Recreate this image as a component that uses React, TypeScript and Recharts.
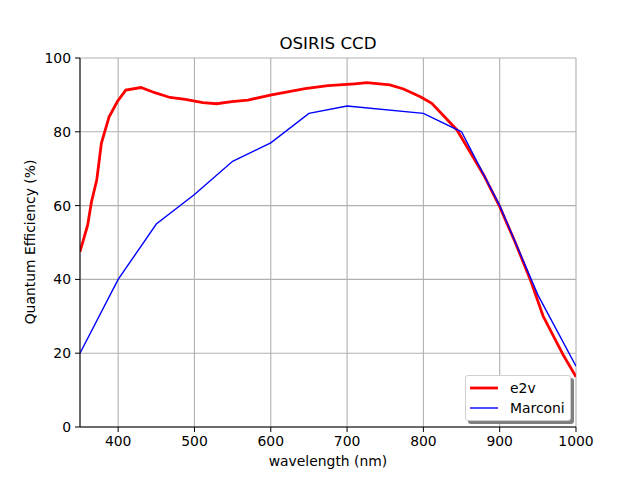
import React from 'react';
import {
  LineChart,
  Line,
  XAxis,
  YAxis,
  CartesianGrid,
} from 'recharts';

// e2v curve
const e2vWavelength = [350, 360, 365, 372, 378, 388, 399, 410, 430, 448, 468, 488, 511, 529, 549, 570, 601, 645, 675, 710, 726, 756, 774, 796, 811, 828, 844, 861, 879, 900, 920, 940, 957, 983, 1000];
const e2vQE = [47.5, 54.7, 61, 67, 76.9, 84, 88.2, 91.3, 92, 90.6, 89.3, 88.8, 87.9, 87.6, 88.2, 88.6, 90, 91.7, 92.5, 93, 93.3, 92.7, 91.6, 89.5, 87.7, 84, 80.5, 74.6, 68.3, 59.7, 50.2, 40, 30, 19.6, 13.6];

// Marconi curve
const marconiWavelength = [350, 400, 450, 500, 550, 600, 650, 700, 800, 850, 900, 950, 1000];
const marconiQE = [20, 40, 55, 63, 72, 77, 85, 87, 85, 80, 60, 35.8, 16.5];

const xTicks = [400, 500, 600, 700, 800, 900, 1000];
const yTicks = [0, 20, 40, 60, 80, 100];

const e2vData = e2vWavelength.map((wl, i) => ({ wl, qe: e2vQE[i] }));
const marconiData = marconiWavelength.map((wl, i) => ({ wl, qe: marconiQE[i] }));

const series = [
  { name: 'e2v', color: '#ff0000', width: 2.8 },
  { name: 'Marconi', color: '#0000ff', width: 1.4 },
];

const font = 'DejaVu Sans, sans-serif';
const tickStyle = { fill: '#000', fontSize: 13.9, fontFamily: font };

const LegendBox = () => (
  <div
    style={{
      position: 'absolute',
      left: 465,
      top: 375,
      width: 106,
      height: 46,
      background: '#fff',
      border: '1px solid #d0d0d0',
      borderRadius: 3,
      boxShadow: '3px 3px 0 #808080',
      fontFamily: font,
      fontSize: 13.9,
      boxSizing: 'border-box',
      paddingTop: 2,
    }}
  >
    {series.map((s) => (
      <div key={s.name} style={{ display: 'flex', alignItems: 'center', height: 20 }}>
        <svg width={40} height={10} style={{ marginLeft: 4 }}>
          <line x1={0} x2={28} y1={5} y2={5} stroke={s.color} strokeWidth={s.width} />
        </svg>
        <span style={{ color: '#000' }}>{s.name}</span>
      </div>
    ))}
  </div>
);

export default function App() {
  return (
    <div style={{ position: 'absolute', left: 0, top: 0, width: 640, height: 480, background: '#fff' }}>
      <div
        style={{
          position: 'absolute',
          left: 80,
          width: 496,
          top: 33,
          textAlign: 'center',
          fontFamily: font,
          fontSize: 16.7,
        }}
      >
        OSIRIS CCD
      </div>
      <div
        style={{
          position: 'absolute',
          left: 80,
          width: 496,
          top: 453,
          textAlign: 'center',
          fontFamily: font,
          fontSize: 13.9,
        }}
      >
        wavelength (nm)
      </div>
      <div
        style={{
          position: 'absolute',
          left: 30,
          top: 242,
          transform: 'translate(-50%, -50%) rotate(-90deg)',
          whiteSpace: 'nowrap',
          fontFamily: font,
          fontSize: 13.9,
        }}
      >
        Quantum Efficiency (%)
      </div>
      <LineChart width={640} height={480} margin={{ top: 58, right: 64, left: 0, bottom: 0 }}>
        <CartesianGrid xAxisId="b" yAxisId="l" stroke="#b0b0b0" strokeWidth={1.1} />
        <XAxis
          xAxisId="b"
          type="number"
          dataKey="wl"
          domain={[350, 1000]}
          ticks={xTicks}
          allowDataOverflow
          height={53}
          tickSize={5}
          tickMargin={4}
          stroke="#000"
          tickLine={{ stroke: '#000' }}
          tick={tickStyle}
        />
        <XAxis
          xAxisId="t"
          orientation="top"
          type="number"
          domain={[350, 1000]}
          height={0}
          tick={false}
          tickLine={false}
          axisLine={{ stroke: '#000' }}
        />
        <YAxis
          yAxisId="l"
          type="number"
          domain={[0, 100]}
          ticks={yTicks}
          width={80}
          tickSize={5}
          tickMargin={4}
          stroke="#000"
          tickLine={{ stroke: '#000' }}
          tick={tickStyle}
        />
        <YAxis
          yAxisId="r"
          orientation="right"
          type="number"
          domain={[0, 100]}
          width={0}
          tick={false}
          tickLine={false}
          axisLine={{ stroke: '#000' }}
        />
        <Line
          xAxisId="b"
          yAxisId="l"
          data={e2vData}
          dataKey="qe"
          name="e2v"
          type="linear"
          stroke="#ff0000"
          strokeWidth={2.8}
          dot={false}
          isAnimationActive={false}
        />
        <Line
          xAxisId="b"
          yAxisId="l"
          data={marconiData}
          dataKey="qe"
          name="Marconi"
          type="linear"
          stroke="#0000ff"
          strokeWidth={1.4}
          dot={false}
          isAnimationActive={false}
        />
      </LineChart>
      <LegendBox />
    </div>
  );
}
